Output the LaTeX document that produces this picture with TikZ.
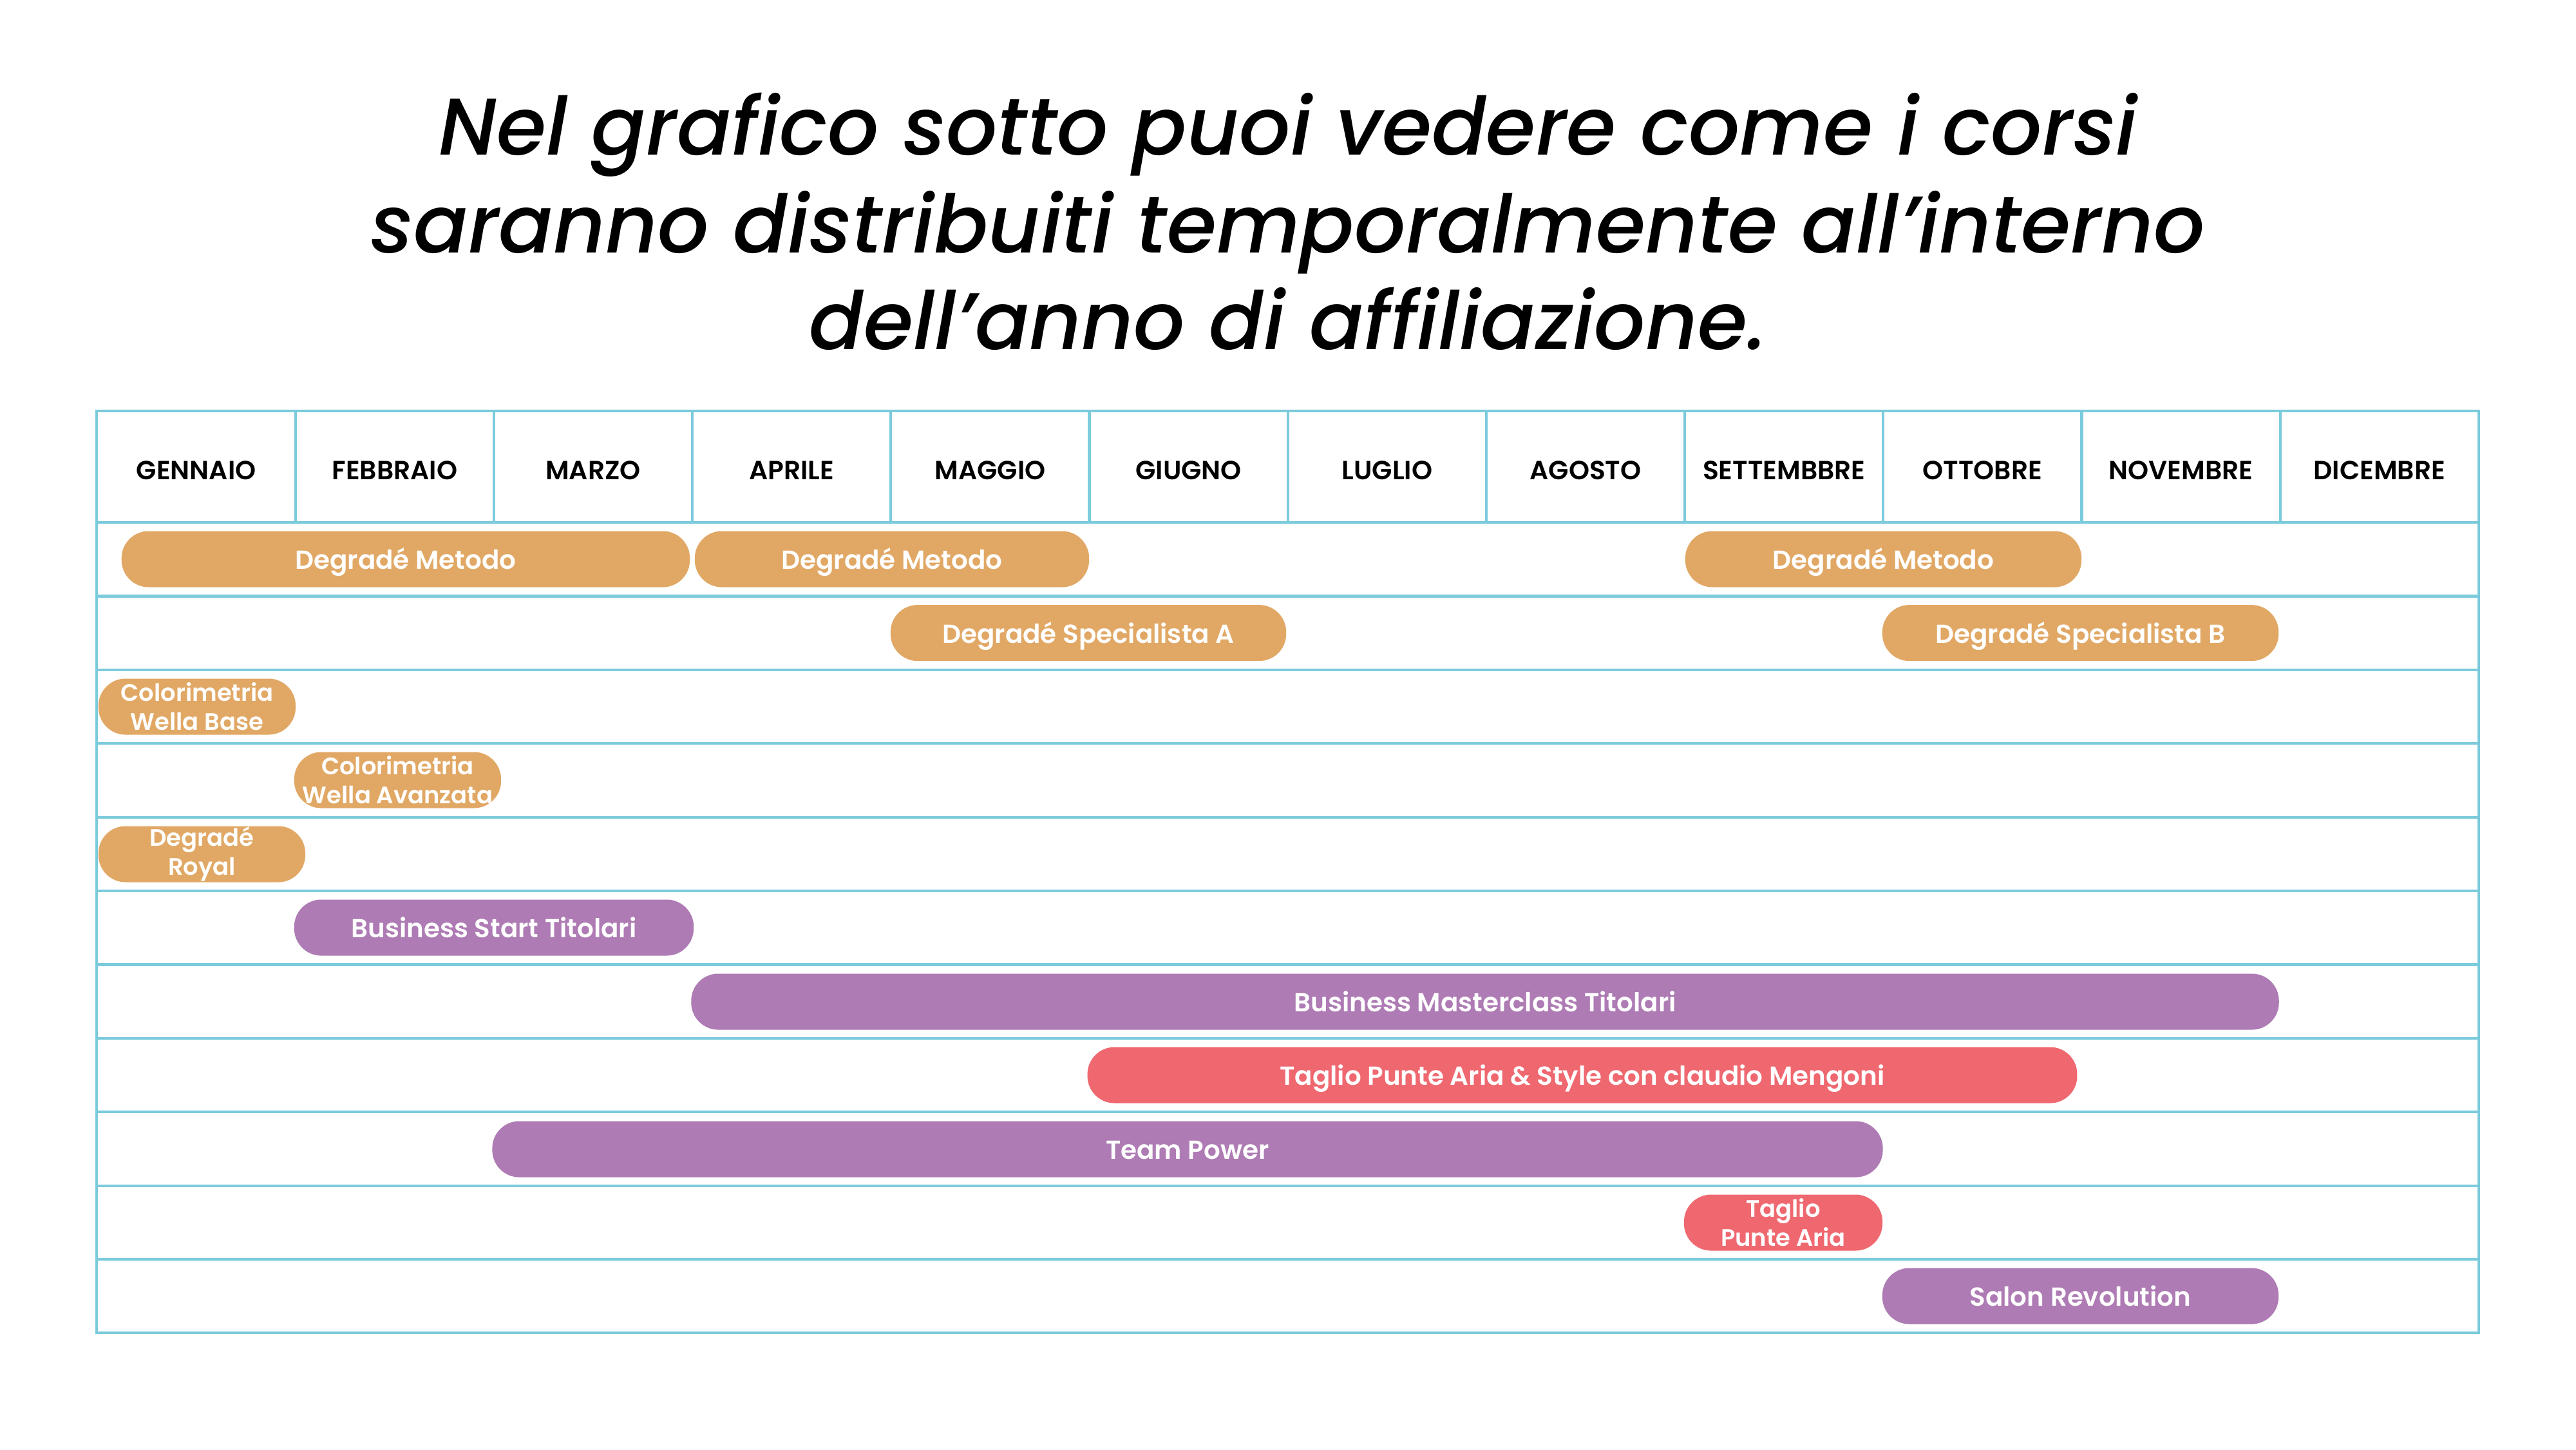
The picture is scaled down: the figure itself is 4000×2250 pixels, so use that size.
\documentclass[tikz,border=0pt]{standalone}
\usepackage{fontspec}
\setmainfont{Poppins}[UprightFont=* Medium, ItalicFont=* Medium Italic]
\newfontfamily\psemi{Poppins SemiBold}
\definecolor{gridc}{HTML}{7BCBDC}
\definecolor{cOr}{HTML}{E1A865}
\definecolor{cPu}{HTML}{AE7BB4}
\definecolor{cRe}{HTML}{EF6870}
\begin{document}
\begin{tikzpicture}[x=0.01cm,y=-0.01cm,
  grid/.style={draw=gridc, line width=1.2pt},
  month/.style={font=\psemi\fontsize{11.6}{13}\selectfont, text=black},
  title/.style={font=\itshape\fontsize{35.5}{43}\selectfont, anchor=base, inner sep=0pt},
  bar/.style={rounded corners=0.42cm, minimum height=0.87cm, inner sep=0pt, text=white,
    font=\psemi\fontsize{11.5}{13}\selectfont, text height=9.8pt, text depth=1pt},
  bartwo/.style={rounded corners=0.42cm, minimum height=0.87cm, inner sep=0pt, text=white,
    align=center, font=\psemi\fontsize{10.5}{12.8}\selectfont},
  orng/.style={fill=cOr}, purp/.style={fill=cPu}, redd/.style={fill=cRe}]
\useasboundingbox[fill=white] (0,0) rectangle (4000,2250);
% title
\node[title] (t1) at (2000,240) {Nel grafico sotto puoi vedere come i corsi};
\node[title] (t2) at (2000,392) {saranno distribuiti temporalmente all’interno};
\node[title] (t3) at (2000,542) {dell’anno di affiliazione.};
% grid
\foreach \i in {1,...,10} {\draw[grid] (150,{811+114.4*\i}) -- (3849,{811+114.4*\i});}
\draw[grid] (150,811) -- (3849,811);
\foreach \k in {1,...,11} {\draw[grid] ({150.5+308.2*\k},638) -- ({150.5+308.2*\k},811);}
\draw[grid] (150,638) rectangle (3849,2069);
% months
\foreach \m [count=\k from 0] in {GENNAIO,FEBBRAIO,MARZO,APRILE,MAGGIO,GIUGNO,LUGLIO,AGOSTO,SETTEMBBRE,OTTOBRE,NOVEMBRE,DICEMBRE}
  {\node[month] (m\k) at ({150.5+308.2*(\k+0.5)},730) {\m};}
% bars
\node[bar, orng, minimum width=8.82cm] (dm1) at (630,868) {Degradé Metodo};
\node[bar, orng, minimum width=6.12cm] (dm2) at (1385,868) {Degradé Metodo};
\node[bar, orng, minimum width=6.15cm] (dm3) at (2924.5,868) {Degradé Metodo};
\node[bar, orng, minimum width=6.14cm] (dsa) at (1690,982.6) {Degradé Specialista A};
\node[bar, orng, minimum width=6.15cm] (dsb) at (3230.5,982.6) {Degradé Specialista B};
\node[bartwo, orng, minimum width=3.06cm] (cwb) at (306,1097) {Colorimetria\\Wella Base};
\node[bartwo, orng, minimum width=3.21cm] (cwa) at (617.5,1211) {Colorimetria\\Wella Avanzata};
\node[bartwo, orng, minimum width=3.21cm] (dr) at (313.5,1326) {Degradé\\Royal};
\node[bar, purp, minimum width=6.20cm] (bst) at (767,1440) {Business Start Titolari};
\node[bar, purp, minimum width=24.64cm] (bmt) at (2306,1555) {Business Masterclass Titolari};
\node[bar, redd, minimum width=15.36cm] (tpa) at (2457,1669) {Taglio Punte Aria \& Style con claudio Mengoni};
\node[bar, purp, minimum width=21.58cm] (tp) at (1844,1784) {Team Power};
\node[bartwo, redd, minimum width=3.08cm] (tpb) at (2769,1898) {Taglio\\Punte Aria};
\node[bar, purp, minimum width=6.15cm] (sr) at (3230.5,2012) {Salon Revolution};
\end{tikzpicture}
\end{document}
